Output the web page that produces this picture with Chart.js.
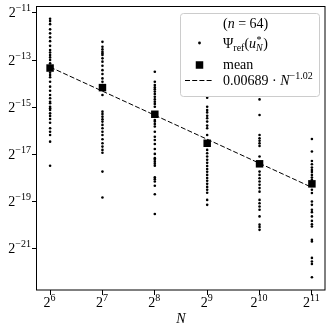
<!DOCTYPE html>
<html>
<head>
<meta charset="utf-8">
<script src="https://cdn.jsdelivr.net/npm/chart.js@4.4.1/dist/chart.umd.min.js"></script>
<style>
html, body { margin: 0; padding: 0; background: #fff; }
#wrap { width: 332px; height: 332px; }
</style>
</head>
<body>
<div id="wrap"><canvas id="chart" width="332" height="332"></canvas></div>
<script>
// sample sizes N
const sizes = [64, 128, 256, 512, 1024, 2048];

// Psi_ref(u*_N) per N, as log2 of the value
const psiLog2_64 = [-11.25, -11.35, -11.48, -11.70, -11.87, -12.04, -12.20, -12.40, -12.58, -12.68, -12.79, -12.89, -13.00, -13.14, -13.24, -13.43, -13.54, -13.64, -13.73, -13.92, -14.13, -14.30, -14.48, -14.62, -14.77, -14.83, -14.98, -15.05, -15.12, -15.26, -15.37, -15.50, -15.66, -15.89, -16.04, -16.18, -16.46, -17.48];
const psiLog2_128 = [-12.23, -12.44, -12.55, -12.65, -12.72, -12.79, -12.93, -13.07, -13.24, -13.43, -13.59, -13.78, -13.92, -14.06, -14.27, -14.48, -15.19, -15.29, -15.40, -15.51, -15.61, -15.75, -15.89, -16.04, -16.18, -16.36, -16.53, -16.67, -16.81, -16.93, -17.73, -18.83];
const psiLog2_256 = [-13.50, -13.92, -14.06, -14.16, -14.24, -14.34, -14.44, -14.56, -14.67, -14.77, -14.86, -14.98, -15.54, -15.61, -15.71, -15.82, -16.04, -16.25, -16.39, -16.56, -16.77, -16.98, -17.16, -17.23, -17.31, -17.40, -17.48, -17.97, -18.05, -18.15, -18.33, -18.69, -19.53];
const psiLog2_512 = [-14.60, -14.98, -15.12, -15.22, -15.36, -15.47, -15.61, -15.78, -15.89, -16.18, -16.81, -16.95, -17.09, -17.23, -17.36, -17.49, -17.62, -17.74, -17.87, -18.00, -18.12, -18.25, -18.38, -18.50, -18.63, -18.93, -19.14];
const psiLog2_1024 = [-14.67, -15.33, -16.18, -16.32, -16.42, -16.53, -16.64, -17.09, -17.73, -17.87, -18.01, -18.15, -18.29, -18.43, -18.58, -18.93, -19.07, -19.21, -19.35, -19.63, -19.98, -20.08, -20.20];
const psiLog2_2048 = [-16.35, -16.88, -17.28, -17.42, -17.56, -17.66, -17.75, -17.87, -17.98, -18.08, -18.32, -18.50, -18.64, -19.00, -19.14, -19.35, -19.45, -19.63, -19.82, -19.96, -20.06, -20.62, -20.69, -21.39, -21.54, -21.65, -22.21];

// mean per N (log2)
const meanLog2 = [-13.34, -14.17, -15.30, -16.53, -17.40, -18.25];

// fitted line 0.00689 * N^-1.02, end points (log2)
const fitN = [64, 2048];
const fitLog2 = [-13.30, -18.40];

// tick exponents
const xTickExp = [6, 7, 8, 9, 10, 11];
const yTickExp = [-21, -19, -17, -15, -13, -11];

const psiByN = [psiLog2_64, psiLog2_128, psiLog2_256, psiLog2_512, psiLog2_1024, psiLog2_2048];

const dots = [];
sizes.forEach((n, i) => {
    psiByN[i].forEach(e => dots.push({ x: n, y: Math.pow(2, e) }));
});
const means = sizes.map((n, i) => ({ x: n, y: Math.pow(2, meanLog2[i]) }));
const fit = fitN.map((n, i) => ({ x: n, y: Math.pow(2, fitLog2[i]) }));

const FONT = '"Liberation Serif", "Times New Roman", serif';

function setFont(ctx, size, italic) {
    ctx.font = (italic ? "italic " : "") + size + "px " + FONT;
}

function runsWidth(ctx, runs) {
    let w = 0;
    runs.forEach(r => {
        setFont(ctx, r.size, r.italic);
        w += ctx.measureText(r.t).width;
    });
    return w;
}

function drawRuns(ctx, x, y, runs) {
    runs.forEach(r => {
        setFont(ctx, r.size, r.italic);
        ctx.fillText(r.t, x, y - (r.dy || 0));
        x += ctx.measureText(r.t).width;
    });
    return x;
}

function powRuns(e) {
    return [
        { t: "2", size: 14 },
        { t: String(e).replace("-", "\u2212"), size: 10, dy: 6 }
    ];
}

const decorations = {
    id: "decorations",
    afterDraw(chart) {
        const ctx = chart.ctx;
        const a = chart.chartArea;
        const xs = chart.scales.x;
        const ys = chart.scales.y;

        ctx.save();

        // frame
        ctx.strokeStyle = "#000";
        ctx.lineWidth = 1;
        ctx.strokeRect(a.left - 0.5, a.top + 0.5, a.right - a.left + 0.5, a.bottom - a.top - 0.5);

        ctx.fillStyle = "#000";
        ctx.textBaseline = "alphabetic";
        ctx.textAlign = "left";

        // x tick labels
        xTickExp.forEach(e => {
            const px = xs.getPixelForValue(Math.pow(2, e));
            const runs = powRuns(e);
            const w = runsWidth(ctx, runs);
            drawRuns(ctx, px - w / 2 - 0.5, 307, runs);
        });

        // y tick labels
        yTickExp.forEach(e => {
            const py = ys.getPixelForValue(Math.pow(2, e));
            const runs = powRuns(e);
            const w = runsWidth(ctx, runs);
            drawRuns(ctx, 31 - w, py + 4.5, runs);
        });

        // axis title
        setFont(ctx, 14, true);
        ctx.textAlign = "center";
        ctx.fillText("N", (a.left + a.right) / 2, 323);
        ctx.textAlign = "left";

        // legend box
        const bx = 180.5, by = 13.5, bw = 139, bh = 83, r = 3;
        ctx.beginPath();
        ctx.moveTo(bx + r, by);
        ctx.lineTo(bx + bw - r, by);
        ctx.arcTo(bx + bw, by, bx + bw, by + r, r);
        ctx.lineTo(bx + bw, by + bh - r);
        ctx.arcTo(bx + bw, by + bh, bx + bw - r, by + bh, r);
        ctx.lineTo(bx + r, by + bh);
        ctx.arcTo(bx, by + bh, bx, by + bh - r, r);
        ctx.lineTo(bx, by + r);
        ctx.arcTo(bx, by, bx + r, by, r);
        ctx.closePath();
        ctx.fillStyle = "rgba(255,255,255,0.8)";
        ctx.fill();
        ctx.strokeStyle = "#cccccc";
        ctx.lineWidth = 1;
        ctx.stroke();

        ctx.fillStyle = "#000";
        const lx = 223;

        // (n = 64)
        drawRuns(ctx, lx, 27.5, [
            { t: "(", size: 14 },
            { t: "n", size: 14, italic: true },
            { t: " = 64)", size: 14 }
        ]);

        // dot entry
        ctx.beginPath();
        ctx.arc(199.5, 43, 1.4, 0, Math.PI * 2);
        ctx.fill();
        let x = drawRuns(ctx, lx, 47.5, [
            { t: "\u03A8", size: 14 },
            { t: "ref", size: 10, dy: -3 },
            { t: "(", size: 14 },
            { t: "u", size: 14, italic: true }
        ]);
        setFont(ctx, 10, false);
        ctx.fillText("*", x + 0.5, 47.5 - 5);
        setFont(ctx, 10, true);
        ctx.fillText("N", x, 47.5 + 3);
        x += ctx.measureText("N").width + 0.5;
        setFont(ctx, 14, false);
        ctx.fillText(")", x, 47.5);

        // mean entry
        ctx.fillRect(195.75, 61.25, 7.5, 7.5);
        drawRuns(ctx, lx, 69, [{ t: "mean", size: 14 }]);

        // fit entry
        ctx.beginPath();
        ctx.setLineDash([5, 2.2]);
        ctx.strokeStyle = "#000";
        ctx.lineWidth = 1;
        ctx.moveTo(185, 80.5);
        ctx.lineTo(213, 80.5);
        ctx.stroke();
        ctx.setLineDash([]);
        drawRuns(ctx, lx, 85, [
            { t: "0.00689 \u00B7 ", size: 14 },
            { t: "N", size: 14, italic: true },
            { t: "\u22121.02", size: 10, dy: 6 }
        ]);

        ctx.restore();
    }
};

new Chart(document.getElementById("chart"), {
    type: "scatter",
    data: {
        datasets: [
            {
                label: "fit",
                type: "line",
                data: fit,
                borderColor: "#000",
                borderWidth: 1,
                borderDash: [5, 2.2],
                pointRadius: 0,
                fill: false,
                order: 1
            },
            {
                label: "mean",
                data: means,
                pointStyle: "rect",
                pointRadius: 5.3,
                backgroundColor: "#000",
                borderWidth: 0,
                order: 2
            },
            {
                label: "psi",
                data: dots,
                pointRadius: 1.3,
                backgroundColor: "#000",
                borderWidth: 0,
                order: 3
            }
        ]
    },
    options: {
        responsive: false,
        animation: false,
        devicePixelRatio: 1,
        layout: { padding: { top: 6, right: 7, left: 0, bottom: 0 } },
        plugins: {
            legend: { display: false },
            tooltip: { enabled: false }
        },
        scales: {
            x: {
                type: "logarithmic",
                min: Math.pow(2, 5.75),
                max: Math.pow(2, 11.25),
                afterBuildTicks: s => { s.ticks = xTickExp.map(e => ({ value: Math.pow(2, e) })); },
                afterFit: s => { s.height = 42; },
                ticks: { display: false },
                border: { display: false },
                grid: { display: true, drawOnChartArea: false, drawTicks: true, tickLength: 5, tickWidth: 1, tickColor: "#000" }
            },
            y: {
                type: "logarithmic",
                min: Math.pow(2, -22.75),
                max: Math.pow(2, -10.71),
                afterBuildTicks: s => { s.ticks = yTickExp.map(e => ({ value: Math.pow(2, e) })); },
                afterFit: s => { s.width = 37; },
                ticks: { display: false },
                border: { display: false },
                grid: { display: true, drawOnChartArea: false, drawTicks: true, tickLength: 5, tickWidth: 1, tickColor: "#000" }
            }
        }
    },
    plugins: [decorations]
});
</script>
</body>
</html>
